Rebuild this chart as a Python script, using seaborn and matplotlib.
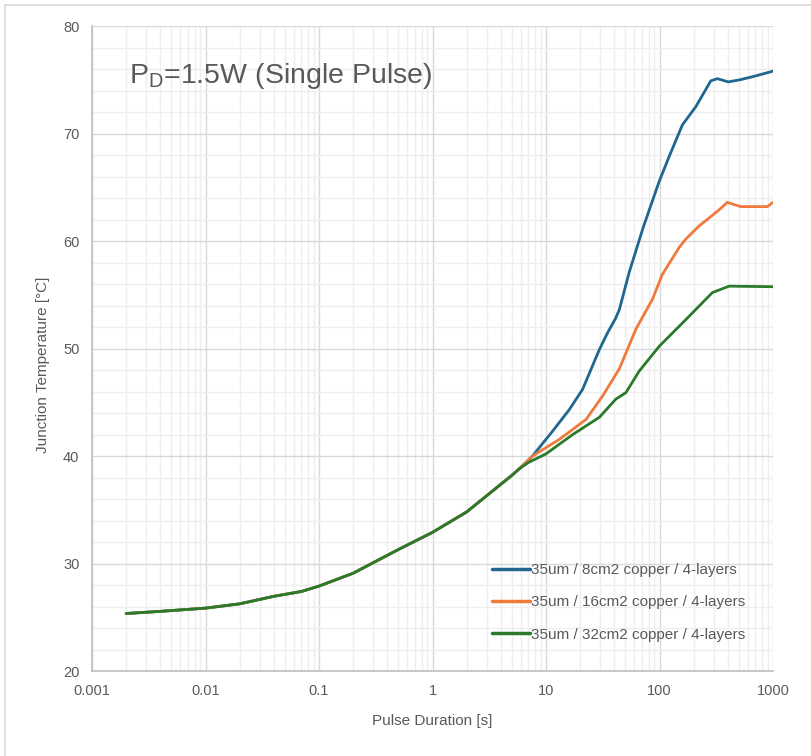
import numpy as np
import pandas as pd
import seaborn as sns
import matplotlib.pyplot as plt
from matplotlib.lines import Line2D
from matplotlib.ticker import MultipleLocator, LogLocator, FixedLocator, FixedFormatter, NullFormatter

sns.set_theme(style="white")
plt.rcParams['font.family'] = ['Liberation Sans Narrow', 'Liberation Sans', 'DejaVu Sans']
plt.rcParams['mathtext.fontset'] = 'custom'
plt.rcParams['mathtext.rm'] = 'Liberation Sans'

# shared low-range part (curves overlap up to ~6 s)
t_low = [0.002, 0.004, 0.01, 0.02, 0.04, 0.07, 0.1, 0.2, 0.5, 1, 2, 5, 5.8]
tj_low = [25.35, 25.55, 25.85, 26.25, 26.95, 27.4, 27.9, 29.1, 31.3, 32.9, 34.8, 38.2, 38.8]

t_8cm = [6.5, 7.6, 11.4, 16, 21, 29.5, 35, 41, 44.2, 54.1, 72, 99, 122, 159, 209, 283, 324, 404, 512, 670, 1000]
tj_8cm = [39.3, 40.0, 42.3, 44.3, 46.2, 49.9, 51.5, 52.8, 53.6, 57.1, 61.3, 65.5, 67.9, 70.8, 72.5, 74.9, 75.1, 74.8, 75.0, 75.3, 75.8]

t_16cm = [7.6, 13.1, 22.5, 31.6, 44.2, 61.9, 86.8, 106, 149, 171, 223, 256, 335, 396, 450, 520, 892, 1000]
tj_16cm = [40.0, 41.55, 43.4, 45.6, 48.1, 51.8, 54.6, 56.9, 59.4, 60.2, 61.4, 61.9, 62.9, 63.6, 63.4, 63.2, 63.2, 63.6]

t_32cm = [7, 10, 17.2, 29.5, 41.3, 50.6, 66.2, 99.3, 171, 292, 410, 1000]
tj_32cm = [39.4, 40.2, 42.0, 43.6, 45.3, 45.9, 47.9, 50.2, 52.7, 55.2, 55.8, 55.75]

labels = ["35um / 8cm2 copper / 4-layers",
          "35um / 16cm2 copper / 4-layers",
          "35um / 32cm2 copper / 4-layers"]
colors = ["#1F6690", "#F07A3C", "#2A7A2A"]

frames = []
for lab, t, tj in zip(labels, [t_8cm, t_16cm, t_32cm], [tj_8cm, tj_16cm, tj_32cm]):
    frames.append(pd.DataFrame({"t": t_low + t, "tj": tj_low + tj, "series": lab}))
df = pd.concat(frames, ignore_index=True)

fig = plt.figure(figsize=(8.12, 7.56), dpi=100)
ax = fig.add_axes([0.1133, 0.1124, 0.8387, 0.8532])

sns.lineplot(data=df, x="t", y="tj", hue="series", palette=colors,
             sort=False, linewidth=2.0, ax=ax)
for ln in ax.get_lines():
    ln.set_solid_joinstyle("round")
    ln.set_solid_capstyle("round")

ax.set_xscale("log")
ax.set_xlim(0.001, 1000)
ax.set_ylim(20, 80)

gray = "#595959"
xt = [0.001, 0.01, 0.1, 1, 10, 100, 1000]
ax.xaxis.set_major_locator(FixedLocator(xt))
ax.xaxis.set_major_formatter(FixedFormatter(["0.001", "0.01", "0.1", "1", "10", "100", "1000"]))
ax.xaxis.set_minor_locator(LogLocator(base=10, subs=np.arange(2, 10), numticks=100))
ax.xaxis.set_minor_formatter(NullFormatter())
ax.yaxis.set_major_locator(MultipleLocator(10))
ax.yaxis.set_minor_locator(MultipleLocator(2))

ax.grid(which="major", color="#d9d9d9", linewidth=1.0)
ax.grid(which="minor", color="#eeeeee", linewidth=1.0)
ax.set_axisbelow(True)
ax.tick_params(which="both", length=0, labelsize=10.5, colors=gray, pad=9)

for s in ["top", "right"]:
    ax.spines[s].set_visible(False)
for s in ["left", "bottom"]:
    ax.spines[s].set_color("#bfbfbf")
    ax.spines[s].set_linewidth(1.2)

ax.set_xlabel("Pulse Duration [s]", fontsize=11, color=gray, labelpad=12)
ax.set_ylabel("Junction Temperature [°C]", fontsize=11, color=gray,
              family=["Liberation Sans", "DejaVu Sans"])
ax.yaxis.set_label_coords(-0.062, 0.475)

ax.text(0.055, 0.945, r"P$_{\rm D}$=1.5W (Single Pulse)", transform=ax.transAxes,
        fontsize=20.5, color=gray, va="top", ha="left",
        family=["Liberation Sans", "DejaVu Sans"])

leg = ax.legend(loc="lower left", bbox_to_anchor=(0.567, 0.024), frameon=False,
                fontsize=11, handlelength=2.5, handletextpad=0.05, labelspacing=1.2)
for txt in leg.get_texts():
    txt.set_color(gray)
for h in leg.legend_handles:
    h.set_linewidth(2.5)

# light border of the chart area
fig.add_artist(Line2D([0.006, 0.006], [0, 0.994], color="#d9d9d9", linewidth=1.2, transform=fig.transFigure))
fig.add_artist(Line2D([0.006, 1], [0.994, 0.994], color="#d9d9d9", linewidth=1.2, transform=fig.transFigure))

fig.savefig("out.png", dpi=100)
